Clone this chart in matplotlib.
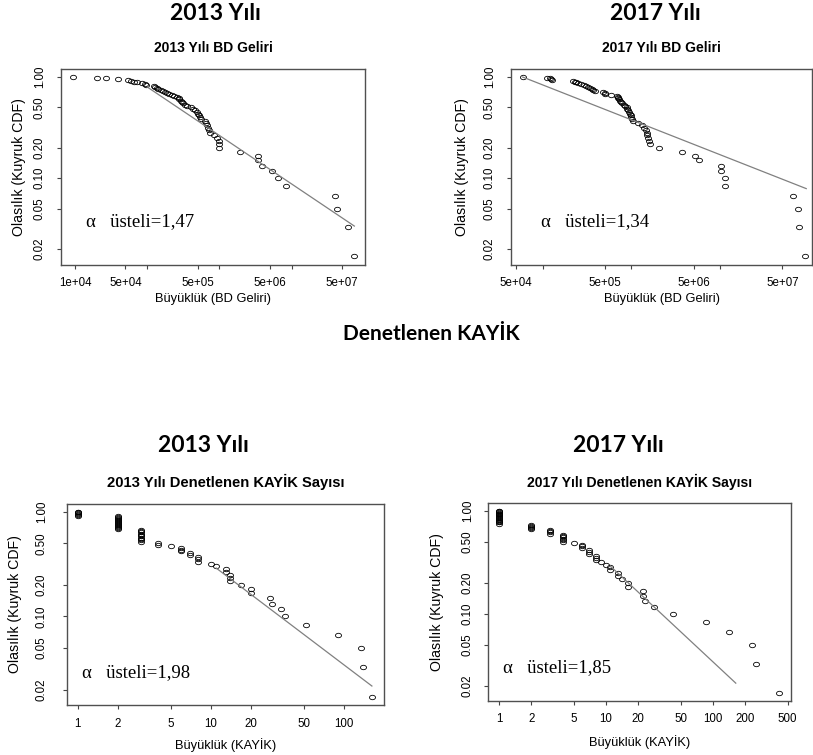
import numpy as np
import matplotlib
matplotlib.use("Agg")
import matplotlib.pyplot as plt
from matplotlib.path import Path
from matplotlib.ticker import FixedLocator, FixedFormatter, NullLocator

plt.rcParams['font.family'] = ['Liberation Sans', 'DejaVu Sans']

# kuyruk olasiliklari (her panelde 60 gozlem)
kuyruk = [1.000, 0.983, 0.967, 0.950, 0.933, 0.917, 0.900, 0.883, 0.867, 0.850,
          0.833, 0.817, 0.800, 0.783, 0.767, 0.750, 0.733, 0.717, 0.700, 0.683,
          0.667, 0.650, 0.633, 0.617, 0.600, 0.583, 0.567, 0.550, 0.533, 0.517,
          0.500, 0.483, 0.467, 0.450, 0.433, 0.417, 0.400, 0.383, 0.367, 0.350,
          0.333, 0.317, 0.300, 0.283, 0.267, 0.250, 0.233, 0.217, 0.200, 0.183,
          0.167, 0.150, 0.133, 0.117, 0.100, 0.083, 0.067, 0.050, 0.033, 0.017]

# BD geliri buyuklukleri
bd13 = [9.3e3, 2.0e4, 2.7e4, 3.9e4, 5.4e4, 6.0e4, 6.5e4, 7.2e4, 8.6e4, 9.2e4,
        9.7e4, 1.25e5, 1.30e5, 1.36e5, 1.41e5, 1.55e5, 1.63e5, 1.74e5, 1.86e5, 2.02e5,
        2.2e5, 2.35e5, 2.6e5, 2.72e5, 2.8e5, 2.9e5, 3.0e5, 3.1e5, 3.3e5, 3.6e5,
        4.0e5, 4.3e5, 4.6e5, 4.9e5, 5.1e5, 5.2e5, 5.4e5, 5.6e5, 6.3e5, 6.6e5,
        6.8e5, 7.0e5, 7.1e5, 7.3e5, 8.4e5, 9.4e5, 9.8e5, 1.0e6, 1.0e6, 1.94e6,
        3.4e6, 3.45e6, 3.95e6, 5.4e6, 6.4e6, 8.3e6, 4.0e7, 4.2e7, 6.0e7, 7.4e7]
bd17 = [5.95e4, 1.12e5, 1.2e5, 1.25e5, 1.28e5, 2.17e5, 2.3e5, 2.4e5, 2.5e5, 2.7e5,
        2.9e5, 3.05e5, 3.2e5, 3.4e5, 3.55e5, 3.7e5, 3.9e5, 4.75e5, 5.0e5, 5.1e5,
        5.9e5, 6.9e5, 7.0e5, 7.1e5, 7.3e5, 7.5e5, 7.7e5, 7.9e5, 8.2e5, 8.5e5,
        8.8e5, 9.0e5, 9.2e5, 9.4e5, 9.6e5, 9.8e5, 1.0e6, 1.02e6, 1.05e6, 1.19e6,
        1.3e6, 1.38e6, 1.45e6, 1.48e6, 1.5e6, 1.54e6, 1.56e6, 1.6e6, 2.02e6, 3.7e6,
        5.2e6, 5.7e6, 1.01e7, 1.01e7, 1.12e7, 1.14e7, 6.65e7, 7.6e7, 7.8e7, 9.1e7]

# denetlenen KAYIK sayilari
kayik13 = [1, 1, 1, 1, 1, 1, 2, 2, 2, 2, 2, 2, 2, 2, 2, 2, 2, 2, 2, 2,
           3, 3, 3, 3, 3, 3, 3, 3, 3, 3, 4, 4, 5, 6, 6, 6, 7, 7, 8, 8,
           8, 10, 11, 13, 13, 14, 14, 14, 17, 20, 20, 28, 29, 34, 36, 52, 91, 136, 140, 163]
kayik17 = [1, 1, 1, 1, 1, 1, 1, 1, 1, 1, 1, 1, 1, 1, 1, 1, 2, 2, 2, 2,
           2, 3, 3, 3, 3, 4, 4, 4, 4, 4, 4, 5, 6, 6, 6, 7, 7, 7, 8, 8,
           8, 9, 10, 11, 11, 13, 13, 14, 16, 16, 22, 22, 23, 28, 42, 87, 143, 231, 252, 417]

# uydurulan guc yasasi dogrulari (bas / son)
fit_bd13_x, fit_bd13_y = [1.02e5, 7.4e7], [0.79, 0.0337]
fit_bd17_x, fit_bd17_y = [5.95e4, 9.3e7], [1.0, 0.079]
fit_k13_x, fit_k13_y = [11, 163], [0.29, 0.0217]
fit_k17_x, fit_k17_y = [11, 164], [0.29, 0.0213]

alfa = ["1,47", "1,34", "1,98", "1,85"]

y_ticks = [1.0, 0.5, 0.2, 0.1, 0.05, 0.02]
y_labels = ["1.00", "0.50", "0.20", "0.10", "0.05", "0.02"]

W, H = 813, 755
fig = plt.figure(figsize=(W / 100, H / 100), dpi=100)

# eliptik acik daire isaretcisi
t = np.linspace(0, 2 * np.pi, 60)
ellipse = Path(np.column_stack([1.35 * np.cos(t), np.sin(t)]))


def panel(box, x, y, fx, fy, xlim, ylim, xt, xtl, subtitle, xlabel, a, apos, offs, subsize=10):
    l, r, top, bot = box
    ax = fig.add_axes([l / W, (H - bot) / H, (r - l) / W, (bot - top) / H])
    ax.set_xscale("log")
    ax.set_yscale("log")
    ax.plot(x, y, linestyle="none", marker=ellipse, markersize=4.3,
            markerfacecolor="none", markeredgecolor="black", markeredgewidth=0.6)
    ax.plot(fx, fy, color="#808080", lw=0.9)
    ax.set_xlim(xlim)
    ax.set_ylim(ylim)
    ax.xaxis.set_major_locator(FixedLocator(xt))
    ax.xaxis.set_major_formatter(FixedFormatter(xtl))
    ax.xaxis.set_minor_locator(NullLocator())
    ax.yaxis.set_major_locator(FixedLocator(y_ticks))
    ax.yaxis.set_major_formatter(FixedFormatter(y_labels))
    ax.yaxis.set_minor_locator(NullLocator())
    xpad, ypad, xlab_off, ylab_off, sub_off = offs
    ax.tick_params(axis="x", length=3, width=0.8, color="#444444", pad=xpad, labelsize=8.3)
    ax.tick_params(axis="y", length=3, width=0.8, color="#444444", pad=ypad, labelsize=8.3)
    for lab in ax.get_yticklabels():
        lab.set_rotation(90)
        lab.set_va("center")
    for s in ax.spines.values():
        s.set_color("#505050")
        s.set_linewidth(1.0)
    ax.annotate(xlabel, xy=(0.5, 0), xycoords="axes fraction", xytext=(0, -xlab_off),
                textcoords="offset pixels", ha="center", va="center", fontsize=9.3)
    ax.annotate("Olasılık (Kuyruk CDF)", xy=(0, 0.5), xycoords="axes fraction",
                xytext=(-ylab_off, 0), textcoords="offset pixels", ha="center",
                va="center", rotation=90, fontsize=10.2)
    ax.annotate(subtitle, xy=(0.5, 1), xycoords="axes fraction", xytext=(0, sub_off),
                textcoords="offset pixels", ha="center", va="center",
                fontsize=subsize, fontweight="bold")
    ax.text(apos[0], apos[1], "α   üsteli=" + a, transform=ax.transAxes,
            ha="left", va="center", fontsize=13.5, family="Liberation Serif")
    return ax


panel((61, 365, 69, 265), bd13, kuyruk, fit_bd13_x, fit_bd13_y,
      (6.4e3, 1.04e8), (0.0139, 1.2),
      [1e4, 5e4, 1e5, 5e5, 1e6, 5e6, 1e7, 5e7],
      ["1e+04", "5e+04", "", "5e+05", "", "5e+06", "", "5e+07"],
      "2013 Yılı BD Geliri", "Büyüklük (BD Geliri)", alfa[0], (0.082, 0.219),
      (5.5, 8.0, 34, 42, 21))

panel((511, 812, 69, 265), bd17, kuyruk, fit_bd17_x, fit_bd17_y,
      (4.4e4, 1.08e8), (0.0139, 1.2),
      [5e4, 1e5, 5e5, 1e6, 5e6, 1e7, 5e7],
      ["5e+04", "", "5e+05", "", "5e+06", "", "5e+07"],
      "2017 Yılı BD Geliri", "Büyüklük (BD Geliri)", alfa[1], (0.10, 0.219),
      (5.5, 8.0, 34, 49, 21))

panel((67, 384, 504, 705), kayik13, kuyruk, fit_k13_x, fit_k13_y,
      (0.833, 201), (0.0143, 1.184),
      [1, 2, 5, 10, 20, 50, 100],
      ["1", "2", "5", "10", "20", "50", "100"],
      "2013 Yılı Denetlenen KAYİK Sayısı", "Büyüklük (KAYİK)", alfa[2], (0.047, 0.159),
      (6.2, 10.8, 40, 52, 22), subsize=10.6)

panel((488, 791, 503, 701), kayik17, kuyruk, fit_k17_x, fit_k17_y,
      (0.789, 539), (0.0143, 1.185),
      [1, 2, 5, 10, 20, 50, 100, 200, 500],
      ["1", "2", "5", "10", "20", "50", "100", "200", "500"],
      "2017 Yılı Denetlenen KAYİK Sayısı", "Büyüklük (KAYİK)", alfa[3], (0.05, 0.167),
      (6.0, 7.2, 41, 51, 21), subsize=10.1)

# ust basliklar
big = dict(ha="center", va="center", fontweight="bold", family="Lato")
fig.text(215 / W, 1 - 14 / H, "2013 Yılı", fontsize=16.5, **big)
fig.text(655 / W, 1 - 14 / H, "2017 Yılı", fontsize=16.5, **big)
fig.text(431 / W, 1 - 334 / H, "Denetlenen KAYİK", fontsize=15, **big)
fig.text(203 / W, 1 - 446 / H, "2013 Yılı", fontsize=16.5, **big)
fig.text(618 / W, 1 - 446 / H, "2017 Yılı", fontsize=16.5, **big)

fig.savefig("out.png", dpi=100)
